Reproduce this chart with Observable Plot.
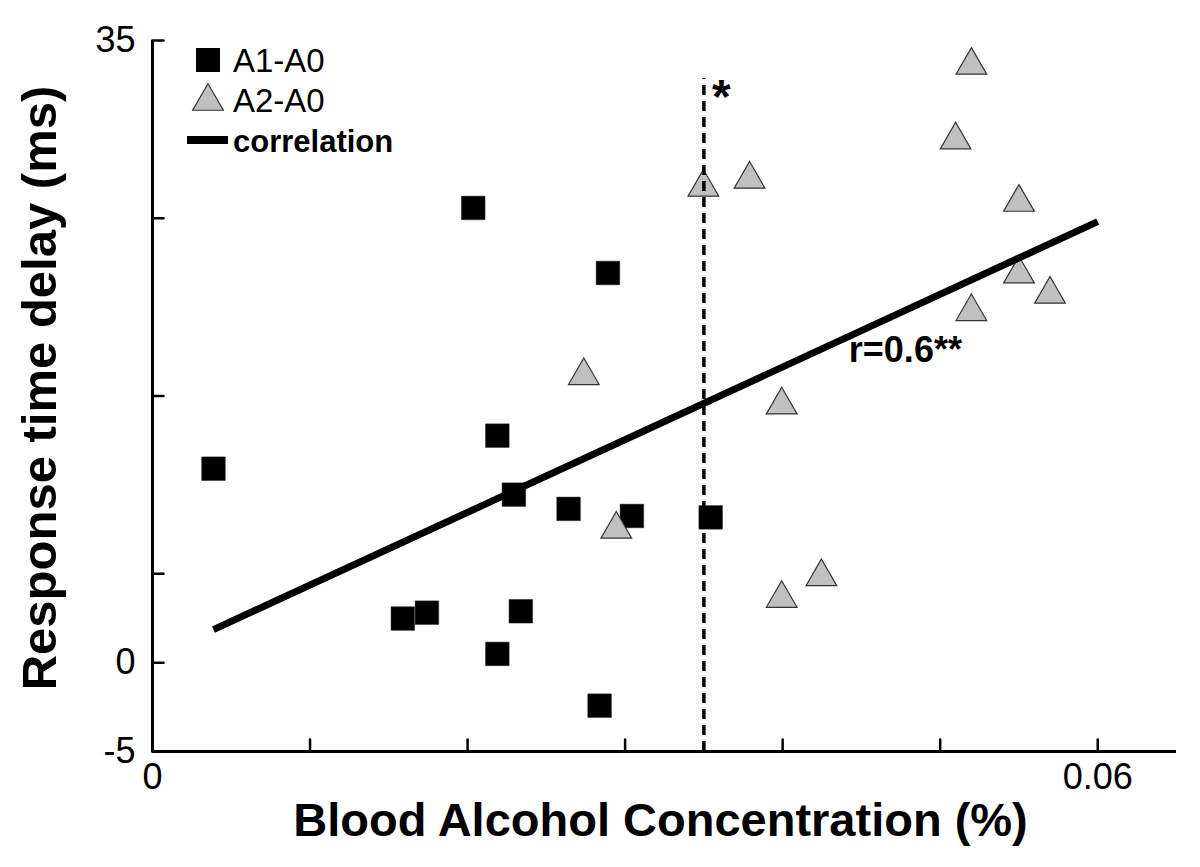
<!DOCTYPE html>
<html>
<head>
<meta charset="utf-8">
<script src="https://cdn.jsdelivr.net/npm/d3@7"></script>
<script src="https://cdn.jsdelivr.net/npm/@observablehq/plot@0.6"></script>
<style>
html, body { margin: 0; padding: 0; background: #fff; }
#wrap { position: relative; width: 1200px; height: 867px; font-family: "Liberation Sans", Arial, sans-serif; }
#legend { position: absolute; left: 0; top: 0; pointer-events: none; }
</style>
</head>
<body>
<div id="wrap"></div>
<script>
// ---- data ----
const a1X = [0.00387, 0.02036, 0.02891, 0.02189, 0.02294, 0.02641, 0.03043, 0.03543, 0.01589, 0.01742, 0.02338, 0.02189, 0.02838];
const a1Y = [10.91, 25.58, 21.92, 12.77, 9.45, 8.65, 8.25, 8.17, 2.48, 2.81, 2.89, 0.49, -2.42];

const a2X = [0.05198, 0.05098, 0.03497, 0.03790, 0.05500, 0.05500, 0.05697, 0.05198, 0.02738, 0.03994, 0.02944, 0.04246, 0.03994];
const a2Y = [33.85, 29.65, 26.99, 27.44, 26.14, 22.11, 20.97, 19.99, 16.39, 14.74, 7.75, 5.08, 3.86];

const corrX = [0.00387, 0.06];
const corrY = [1.86, 24.81];

const thresholdX = [0.035];
const thresholdTop = [32.86];
const thresholdMark = ["*"];

const corrText = ["r=0.6**"];
const corrTextX = [0.0442];
const corrTextY = [16.93];

const xTicks = [0, 0.01, 0.02, 0.03, 0.04, 0.05, 0.06];
const xTickLabels = [0, 0.06];
const yTicks = [-5, 0, 5, 15, 25, 35];
const yTickLabels = [35, 0, -5];

const seriesNames = ["A1-A0", "A2-A0", "correlation"];
const xLabel = ["Blood Alcohol Concentration (%)"];
const yLabel = ["Response time delay (ms)"];

// ---- build tables ----
const a1 = a1X.map((x, i) => ({x, y: a1Y[i]}));
const a2 = a2X.map((x, i) => ({x, y: a2Y[i]}));
const corr = corrX.map((x, i) => ({x, y: corrY[i]}));
const thresh = thresholdX.map((x, i) => ({x, top: thresholdTop[i], text: thresholdMark[i]}));
const corrLab = corrText.map((t, i) => ({x: corrTextX[i], y: corrTextY[i], text: t}));

const tickShape = { draw(ctx, l) { ctx.moveTo(0, 0); ctx.lineTo(0, -l); } };

const chart = Plot.plot({
  width: 1200,
  height: 867,
  marginLeft: 152,
  marginRight: 24,
  marginTop: 40,
  marginBottom: 116,
  style: { fontFamily: "'Liberation Sans', Arial, sans-serif", background: "#fff", color: "#000" },
  x: { domain: [0, 0.065] },
  y: { domain: [-5, 35] },
  marks: [
    // axes lines
    Plot.ruleX([0], { stroke: "#000", strokeWidth: 3 }),
    Plot.ruleY([-5], { stroke: "#000", strokeWidth: 3 }),
    // inward ticks
    Plot.vector(xTicks, { x: d => d, y: -5, length: 12, anchor: "start", shape: tickShape, stroke: "#000", strokeWidth: 2.5 }),
    Plot.vector(yTicks, { x: 0, y: d => d, length: 11, rotate: 90, anchor: "start", shape: tickShape, stroke: "#000", strokeWidth: 2.5 }),
    // tick labels
    Plot.axisY(yTickLabels, { tickSize: 0, tickPadding: 17, fontSize: 36, label: null, tickFormat: d => String(d) }),
    Plot.axisX(xTickLabels, { tickSize: 0, tickPadding: 12, fontSize: 36, label: null, tickFormat: d => String(d) }),
    // data
    Plot.dot(a1, { x: "x", y: "y", symbol: "square", r: 13.3, fill: "#000", stroke: "#222", strokeWidth: 0.5 }),
    Plot.dot(a2, { x: "x", y: "y", symbol: "triangle", r: 11.4, dy: 4.4, fill: "#c0c0c0", stroke: "#333", strokeWidth: 1.2 }),
    Plot.line(corr, { x: "x", y: "y", stroke: "#000", strokeWidth: 7, strokeLinecap: "butt" }),
    Plot.ruleX(thresh, { x: "x", y1: -5, y2: "top", stroke: "#000", strokeWidth: 3.5, strokeDasharray: "10,6" }),
    Plot.text(thresh, { x: "x", y: "top", text: "text", dx: 8, textAnchor: "start", lineAnchor: "top", fontSize: 48, fontWeight: "bold", fill: "#000" }),
    Plot.text(corrLab, { x: "x", y: "y", text: "text", textAnchor: "start", lineAnchor: "bottom", fontSize: 36, fontWeight: "bold", fill: "#000" }),
    // axis titles
    Plot.text(xLabel, { text: d => d, frameAnchor: "bottom", textAnchor: "middle", lineAnchor: "bottom", dy: 84, dx: -4, fontSize: 47, fontWeight: "bold", fill: "#000" }),
    Plot.text(yLabel, { text: d => d, frameAnchor: "left", textAnchor: "middle", rotate: -90, lineAnchor: "bottom", dx: -97, dy: -8, fontSize: 49, fontWeight: "bold", fill: "#000" })
  ]
});

const wrap = document.getElementById("wrap");
wrap.appendChild(chart);

// ---- legend overlay ----
const leg = d3.select(wrap).append("svg")
  .attr("id", "legend")
  .attr("width", 1200).attr("height", 867);
const lg = leg.append("g").attr("font-family", "'Liberation Sans', Arial, sans-serif");
// square
lg.append("rect").attr("x", 196).attr("y", 48).attr("width", 24).attr("height", 24).attr("fill", "#000");
lg.append("text").attr("x", 233).attr("y", 72).attr("font-size", 33).text(seriesNames[0]);
// triangle
const tri = d3.symbol(d3.symbolTriangle, 408)();
lg.append("path").attr("d", tri).attr("transform", "translate(208,101.4)").attr("fill", "#c0c0c0").attr("stroke", "#333").attr("stroke-width", 1.2);
lg.append("text").attr("x", 233).attr("y", 112).attr("font-size", 33).text(seriesNames[1]);
// line
lg.append("line").attr("x1", 187).attr("x2", 228).attr("y1", 140).attr("y2", 140).attr("stroke", "#000").attr("stroke-width", 8);
lg.append("text").attr("x", 233).attr("y", 152).attr("font-size", 31).attr("font-weight", "bold").text(seriesNames[2]);
</script>
</body>
</html>
